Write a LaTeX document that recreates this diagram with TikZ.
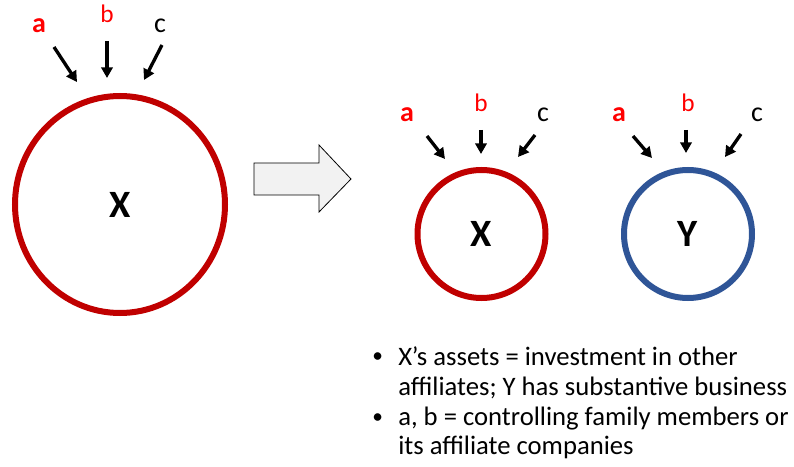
\documentclass[tikz,border=0pt]{standalone}
\usepackage{fontspec}
\setmainfont{Carlito}
\usetikzlibrary{arrows.meta,shapes.geometric}
\definecolor{darkred}{HTML}{C00000}
\definecolor{darkblue}{HTML}{2F5597}
\definecolor{brightred}{HTML}{FF0000}
\tikzset{
  owner/.style={-{Triangle[length=8pt,width=8.5pt]},line width=2.5pt},
  firm/.style={circle,line width=4.5pt,minimum size=96pt,inner sep=0pt,font=\fontsize{29}{30}\selectfont\bfseries},
  biglab/.style={anchor=base,font=\fontsize{21}{22}\selectfont},
  smalllab/.style={anchor=base,font=\fontsize{19}{20}\selectfont},
  line/.style={anchor=base west,inner sep=0pt,font=\fontsize{20}{22}\selectfont},
  dot/.style={anchor=base west,inner sep=0pt,font=\fontsize{16}{22}\selectfont}
}
\begin{document}
\begin{tikzpicture}[x=0.75pt,y=-0.75pt]
\useasboundingbox (0,0) rectangle (794,467);
% before: one firm
\node[ellipse,draw=darkred,line width=4.5pt,minimum width=157.5pt,minimum height=162.75pt,
  font=\fontsize{29}{30}\selectfont\bfseries] (X0) at (120,204.5) {X};
\node[biglab,text=brightred,font=\fontsize{21}{22}\selectfont\bfseries] (a0) at (39,33) {a};
\node[smalllab,text=brightred] (b0) at (107,23) {b};
\node[biglab] (c0) at (160,33) {c};
\coordinate (a0s) at (54,47); \coordinate (a0e) at (77,82);
\coordinate (b0s) at (107,41); \coordinate (b0e) at (107,78);
\coordinate (c0s) at (162,45); \coordinate (c0e) at (144,80);
\draw[owner] (a0s)--(a0e);
\draw[owner] (b0s)--(b0e);
\draw[owner] (c0s)--(c0e);
% block arrow
\filldraw[fill=gray!10,draw=black,line width=0.6pt]
  (254,163)--(319,163)--(319,145)--(351,179)--(319,212)--(319,195)--(254,195)--cycle;
% after: two firms
\node[firm,draw=darkred] (X) at (481.5,234) {X};
\node[firm,draw=darkblue] (Y) at (688,234) {Y};
\node[biglab,text=brightred,font=\fontsize{21}{22}\selectfont\bfseries] (a1) at (407,122) {a};
\node[smalllab,text=brightred] (b1) at (481,112) {b};
\node[biglab] (c1) at (543,122) {c};
\node[biglab,text=brightred,font=\fontsize{21}{22}\selectfont\bfseries] (a2) at (619,122) {a};
\node[smalllab,text=brightred] (b2) at (688,112) {b};
\node[biglab] (c2) at (757,122) {c};
\coordinate (a1s) at (427,136); \coordinate (a1e) at (445,159);
\coordinate (b1s) at (481,130); \coordinate (b1e) at (481,154);
\coordinate (c1s) at (535,135); \coordinate (c1e) at (518,157);
\coordinate (a2s) at (633,136); \coordinate (a2e) at (652,158);
\coordinate (b2s) at (686,130); \coordinate (b2e) at (686,153);
\coordinate (c2s) at (741,134); \coordinate (c2e) at (725,157);
\draw[owner] (a1s)--(a1e);
\draw[owner] (b1s)--(b1e);
\draw[owner] (c1s)--(c1e);
\draw[owner] (a2s)--(a2e);
\draw[owner] (b2s)--(b2e);
\draw[owner] (c2s)--(c2e);
% notes
\node[dot] (dot1) at (372,363) {•};
\node[line] (t1) at (398,365) {X’s assets = investment in other};
\node[line] (t2) at (398,395) {affiliates; Y has substantive business};
\node[dot] (dot2) at (372,423) {•};
\node[line] (t3) at (398,425) {a, b = controlling family members or};
\node[line] (t4) at (398,454) {its affiliate companies};
\end{tikzpicture}
\end{document}
